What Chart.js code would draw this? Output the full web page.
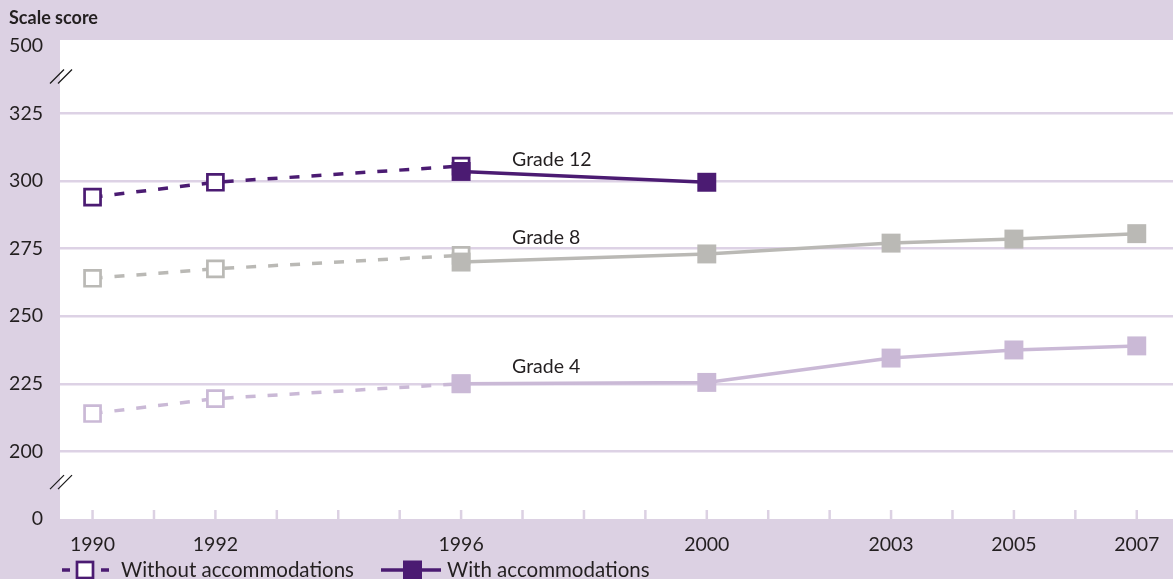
<!DOCTYPE html>
<html>
<head>
<meta charset="utf-8">
<script src="https://cdn.jsdelivr.net/npm/chart.js@4/dist/chart.umd.min.js"></script>
<style>
  html, body { margin: 0; padding: 0; background: #dcd1e3; overflow: hidden; }
  #wrap { position: relative; width: 1173px; height: 579px; }
  canvas { display: block; }
</style>
</head>
<body>
<div id="wrap"><canvas id="chart"></canvas></div>
<script>
// Data
const tickYears = [1990, 1992, 1996, 2000, 2003, 2005, 2007]
const yearsWithout = [1990, 1992, 1996]
const yearsWith = [1996, 2000, 2003, 2005, 2007]

const grade12Without = [294, 299.5, 305.5]
const grade12With = [303.5, 299.5]
const grade8Without = [264, 267.5, 272.5]
const grade8With = [270, 273, 277, 278.5, 280.5]
const grade4Without = [214, 219.5, 225]
const grade4With = [225, 225.5, 234.5, 237.5, 239]

// Broken Y axis: 175 is drawn as "0", 350 as "500"
const yTicks = [175, 200, 225, 250, 275, 300, 325, 350]
const yTickLabels = ['0', '200', '225', '250', '275', '300', '325', '500']

const gradeNames = ['Grade 12', 'Grade 8', 'Grade 4']
const gradeLabelValues = [308, 279, 231.3]
const gradeLabelYear = 1996.83

const PURPLE = '#4b1b72'
const GRAY = '#bab9b5'
const LAVENDER = '#cab9d6'
const BG = '#dcd1e3'
const GRID = '#ddd2e5'
const FONT = 'Lato, "Open Sans", sans-serif'

const toPoints = (xs, ys) => ys.map((y, i) => ({ x: xs[i], y: y }))

function withoutSet(data, color) {
  return {
    data: toPoints(yearsWithout, data),
    borderColor: color,
    borderWidth: 3.5,
    borderDash: [10, 12],
    pointStyle: 'rect',
    pointRadius: 11.3,
    pointBorderWidth: 2.7,
    pointBorderColor: color,
    pointBackgroundColor: '#fff',
    order: 2
  }
}

function withSet(years, data, color) {
  return {
    data: toPoints(years, data),
    borderColor: color,
    borderWidth: 3.5,
    pointStyle: 'rect',
    pointRadius: 13.4,
    pointBorderWidth: 0,
    pointBackgroundColor: color,
    order: 1
  }
}

// Background, minor year ticks and break marks
const decorPlugin = {
  id: 'decor',
  beforeDraw(chart) {
    const { ctx, chartArea: a } = chart
    ctx.save()
    ctx.fillStyle = BG
    ctx.fillRect(0, 0, chart.width, chart.height)
    ctx.fillStyle = '#fff'
    ctx.fillRect(a.left, a.top, a.right - a.left, a.bottom - a.top)
    ctx.restore()
  },
  beforeDatasetsDraw(chart) {
    const { ctx, chartArea: a, scales } = chart
    ctx.save()
    ctx.strokeStyle = BG
    ctx.lineWidth = 2.5
    for (let yr = Math.ceil(scales.x.min); yr <= scales.x.max; yr++) {
      const px = scales.x.getPixelForValue(yr)
      ctx.beginPath()
      ctx.moveTo(px, a.bottom)
      ctx.lineTo(px, a.bottom - 9)
      ctx.stroke()
    }
    // axis breaks "//"
    ctx.strokeStyle = '#1a1a1a'
    ctx.lineWidth = 1.2
    ;[337.5, 187.5].forEach(v => {
      const cy = scales.y.getPixelForValue(v) - 3
      ;[0, 8].forEach(dx => {
        ctx.beginPath()
        ctx.moveTo(a.left - 10 + dx, cy + 7)
        ctx.lineTo(a.left + 4 + dx, cy - 7)
        ctx.stroke()
      })
    })
    ctx.restore()
  },
  afterDatasetsDraw(chart) {
    const { ctx, scales } = chart
    ctx.save()
    ctx.fillStyle = '#231f20'
    ctx.textBaseline = 'middle'
    ctx.textAlign = 'left'
    ctx.font = '19.5px ' + FONT
    gradeNames.forEach((name, i) => {
      ctx.fillText(name, scales.x.getPixelForValue(gradeLabelYear), scales.y.getPixelForValue(gradeLabelValues[i]))
    })

    // axis title
    ctx.font = 'bold 18px ' + FONT
    ctx.fillText('Scale score', 9, 18)

    // legend
    const ly = 570
    ctx.strokeStyle = PURPLE
    ctx.lineWidth = 3.5
    ctx.beginPath()
    ctx.moveTo(62, ly); ctx.lineTo(70, ly)
    ctx.moveTo(101, ly); ctx.lineTo(109, ly)
    ctx.stroke()
    ctx.lineWidth = 2.7
    ctx.fillStyle = '#fff'
    ctx.fillRect(77, ly - 8, 16, 16)
    ctx.strokeRect(77, ly - 8, 16, 16)
    ctx.fillStyle = '#231f20'
    ctx.font = '20.5px ' + FONT
    ctx.fillText('Without accommodations', 121, ly)

    ctx.lineWidth = 3.5
    ctx.beginPath()
    ctx.moveTo(381, ly); ctx.lineTo(441, ly)
    ctx.stroke()
    ctx.fillStyle = PURPLE
    ctx.fillRect(403, ly - 9.5, 19, 19)
    ctx.fillStyle = '#231f20'
    ctx.fillText('With accommodations', 447, ly)
    ctx.restore()
  }
}

const ctx = document.getElementById('chart').getContext('2d')
new Chart(ctx, {
  type: 'line',
  data: {
    datasets: [
      withoutSet(grade12Without, PURPLE),
      withSet([1996, 2000], grade12With, PURPLE),
      withoutSet(grade8Without, GRAY),
      withSet(yearsWith, grade8With, GRAY),
      withoutSet(grade4Without, LAVENDER),
      withSet(yearsWith, grade4With, LAVENDER)
    ]
  },
  options: {
    responsive: true,
    maintainAspectRatio: false,
    animation: false,
    events: [],
    layout: {
      autoPadding: false,
      padding: { top: 40, left: 0, right: 0, bottom: 0 }
    },
    plugins: {
      legend: { display: false },
      tooltip: { enabled: false }
    },
    scales: {
      x: {
        type: 'linear',
        min: 1989.47,
        max: 2007.59,
        afterBuildTicks: scale => { scale.ticks = tickYears.map(v => ({ value: v })) },
        afterFit: scale => {
          scale.height = 60
          scale.paddingLeft = 0
          scale.paddingRight = 0
        },
        grid: { display: false },
        border: { display: false },
        ticks: {
          color: '#231f20',
          padding: 6,
          maxRotation: 0,
          autoSkip: false,
          font: { size: 19.5, family: FONT },
          callback: v => String(v)
        }
      },
      y: {
        min: 175,
        max: 352.1,
        afterBuildTicks: scale => { scale.ticks = yTicks.map(v => ({ value: v })) },
        afterFit: scale => {
          scale.width = 60
          scale.paddingTop = 0
          scale.paddingBottom = 0
        },
        border: { display: false },
        grid: {
          drawTicks: false,
          lineWidth: 2.5,
          color: c => (c.tick && (c.tick.value === 175 || c.tick.value === 350)) ? 'rgba(0,0,0,0)' : GRID
        },
        ticks: {
          color: '#231f20',
          padding: 17,
          font: { size: 19.5, family: FONT },
          callback: v => yTickLabels[yTicks.indexOf(v)]
        }
      }
    }
  },
  plugins: [decorPlugin]
})
</script>
</body>
</html>
